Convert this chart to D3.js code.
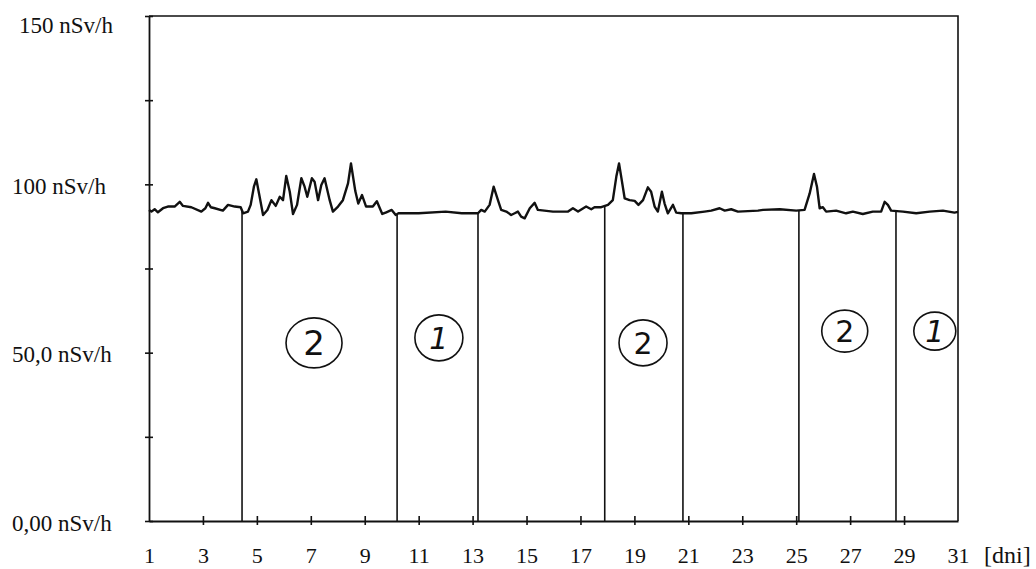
<!DOCTYPE html>
<html>
<head>
<meta charset="utf-8">
<script src="https://cdn.jsdelivr.net/npm/d3@7"></script>
<style>
  body { margin: 0; background: #fff; }
</style>
</head>
<body>
<div class="chart"></div>
<script>
let svgWidth = 1036;
let svgHeight = 569;

let margin = { top: 16, right: 78, bottom: 48, left: 149 };
let width = 958 - margin.left;
let height = 521 - margin.top;

let serif = "'Liberation Serif', 'Times New Roman', 'DejaVu Serif', serif";

// dose rate readings (day of month, nSv/h)
let days = [
    1.0, 1.09, 1.21, 1.33, 1.52, 1.70, 1.95, 2.14, 2.26, 2.57, 2.94, 3.09, 3.19, 3.29, 3.44, 3.74, 3.93, 4.18, 4.40,
    4.49, 4.67, 4.77, 4.89, 4.98, 5.08, 5.23, 5.39, 5.54, 5.70, 5.85, 5.97, 6.09, 6.22, 6.34, 6.49, 6.65, 6.77, 6.87,
    7.04, 7.14, 7.27, 7.39, 7.51, 7.70, 7.82, 8.01, 8.19, 8.38, 8.49, 8.65, 8.76, 8.90, 9.05, 9.30, 9.45, 9.65, 9.80,
    10.0, 10.15, 10.25, 11.0, 12.0, 12.6, 13.2, 13.32, 13.45, 13.63, 13.78, 13.94, 14.06, 14.25, 14.43, 14.56, 14.68,
    14.80, 14.93, 15.12, 15.30, 15.42, 15.98, 16.54, 16.72, 16.91, 17.21, 17.40, 17.52, 17.77, 18.02, 18.20, 18.33,
    18.43, 18.51, 18.64, 18.82, 19.01, 19.15, 19.32, 19.50, 19.62, 19.75, 19.87, 20.02, 20.12, 20.24, 20.43, 20.55,
    20.74, 21.11, 21.60, 21.85, 22.16, 22.35, 22.59, 22.84, 23.58, 23.77, 24.39, 25.0, 25.31, 25.50, 25.66, 25.77,
    25.87, 25.99, 26.11, 26.48, 26.85, 27.10, 27.47, 27.84, 28.15, 28.28, 28.40, 28.52, 28.96, 29.45, 29.95, 30.44,
    30.87, 31.0
];
let doseRate = [
    92.4, 91.9, 92.6, 91.7, 92.9, 93.4, 93.4, 94.8, 93.6, 93.2, 91.9, 92.9, 94.5, 93.2, 92.9, 92.2, 93.9, 93.4, 93.2,
    91.4, 91.9, 93.9, 99.3, 101.5, 97.3, 90.9, 92.4, 95.3, 93.6, 96.3, 95.3, 102.5, 97.8, 91.2, 93.9, 101.8, 99.3, 96.3,
    101.8, 100.8, 95.3, 99.8, 101.8, 95.3, 91.9, 93.4, 95.3, 100.3, 106.2, 98.0, 94.3, 96.8, 93.4, 93.4, 95.0, 91.2, 91.7,
    92.4, 90.9, 91.4, 91.4, 91.9, 91.4, 91.4, 92.4, 91.9, 93.9, 99.3, 95.3, 92.4, 91.9, 90.9, 91.4, 91.9,
    90.4, 89.9, 92.9, 94.5, 92.4, 91.9, 91.9, 92.9, 91.9, 93.4, 92.6, 93.2, 93.2, 93.9, 95.3, 102.3,
    106.2, 102.3, 95.8, 95.3, 95.1, 93.9, 95.3, 99.1, 97.8, 93.4, 91.9, 97.8, 94.3, 91.4, 93.9, 91.6,
    91.4, 91.4, 91.9, 92.2, 92.9, 92.2, 92.6, 91.9, 92.2, 92.4, 92.6, 92.2, 92.4, 97.3, 103.1, 99.3,
    92.9, 93.2, 91.9, 92.2, 91.4, 91.9, 91.2, 91.9, 91.9, 94.8, 93.9, 92.2, 91.9, 91.4, 91.9, 92.2,
    91.6, 91.8
];

// boundaries between measurement periods
let boundaryDays = [4.45, 10.2, 13.2, 17.9, 20.8, 25.1, 28.7];

// circled period numbers
let zoneLabels = ["2", "1", "2", "2", "1"];
let zoneDays = [7.12, 11.75, 19.32, 26.8, 30.14];
let zoneValues = [52.9, 54.4, 52.9, 56.4, 56.4];

let xTicks = d3.range(1, 32, 2);
let yTicks = [0, 25, 50, 75, 100, 125, 150];
let yTickLabels = { 0: "0,00 nSv/h", 50: "50,0 nSv/h", 100: "100 nSv/h", 150: "150 nSv/h" };

let data = days.map((d, i) => ({ day: d, value: doseRate[i] }));

let svg = d3.select(".chart")
    .append("svg")
    .attr("width", svgWidth)
    .attr("height", svgHeight);

let chartGroup = svg.append("g")
    .attr("transform", `translate(${margin.left}, ${margin.top})`);

let xScale = d3.scaleLinear().domain([1, 31]).range([0, width]);
let yScale = d3.scaleLinear().domain([0, 150]).range([height, 0]);

// frame: top and right
chartGroup.append("path")
    .attr("d", `M0,0H${width}V${height}`)
    .attr("fill", "none")
    .attr("stroke", "#111")
    .attr("stroke-width", 1.6);

// y axis
let leftAxis = d3.axisLeft(yScale)
    .tickValues(yTicks)
    .tickSize(0)
    .tickFormat("");
let yAxis = chartGroup.append("g").call(leftAxis);
yAxis.select(".domain").attr("stroke", "#111").attr("stroke-width", 1.8);
yAxis.selectAll(".tick").append("line")
    .attr("x1", -4).attr("x2", 4)
    .attr("stroke", "#111").attr("stroke-width", 1.6);
yAxis.selectAll(".tick").filter(d => yTickLabels[d]).append("text")
    .attr("x", d => d === 150 ? -130 : -137)
    .attr("y", d => d === 150 ? 8 : 1)
    .attr("dy", "0.35em")
    .attr("text-anchor", "start")
    .attr("fill", "#111")
    .style("font-family", serif)
    .style("font-size", "23px")
    .text(d => yTickLabels[d]);

// x axis
let bottomAxis = d3.axisBottom(xScale)
    .tickValues(xTicks)
    .tickSize(0)
    .tickFormat("");
let xAxis = chartGroup.append("g")
    .attr("transform", `translate(0, ${height})`)
    .call(bottomAxis);
xAxis.select(".domain").attr("stroke", "#111").attr("stroke-width", 1.8);
xAxis.selectAll(".tick").filter(d => d > 1 && d < 31).append("line")
    .attr("y1", -5).attr("y2", 4)
    .attr("stroke", "#111").attr("stroke-width", 1.6);
xAxis.selectAll(".tick").append("text")
    .attr("y", 42)
    .attr("text-anchor", "middle")
    .attr("fill", "#111")
    .style("font-family", serif)
    .style("font-size", "22px")
    .text(d => d);

chartGroup.append("text")
    .attr("x", width + 26)
    .attr("y", height + 42)
    .attr("fill", "#111")
    .style("font-family", serif)
    .style("font-size", "24px")
    .text("[dni]");

// period boundaries, up to the trace
let valueAt = d => {
    let i = d3.bisector(p => p.day).left(data, d);
    let a = data[Math.max(i - 1, 0)], b = data[i];
    let t = (d - a.day) / ((b.day - a.day) || 1);
    return a.value + t * (b.value - a.value);
};
chartGroup.selectAll(".boundary")
    .data(boundaryDays)
    .enter()
    .append("line")
    .attr("class", "boundary")
    .attr("x1", d => xScale(d)).attr("x2", d => xScale(d))
    .attr("y1", yScale(0))
    .attr("y2", d => yScale(valueAt(d)))
    .attr("stroke", "#111")
    .attr("stroke-width", 1.6);

// dose rate trace
let line = d3.line()
    .x(d => xScale(d.day))
    .y(d => yScale(d.value));
chartGroup.append("path")
    .datum(data)
    .attr("d", line)
    .attr("fill", "none")
    .attr("stroke", "#111")
    .attr("stroke-width", 2.4)
    .attr("stroke-linejoin", "round");

// circled numbers
let zones = zoneLabels.map((t, i) => ({ text: t, day: zoneDays[i], value: zoneValues[i] }));
let rx = [28, 24, 24, 23, 21];
let ry = [25, 23, 23, 21, 19];
let zone = chartGroup.append("g").selectAll("g")
    .data(zones)
    .enter()
    .append("g")
    .attr("transform", d => `translate(${xScale(d.day)}, ${yScale(d.value)})`);
zone.append("ellipse")
    .attr("rx", (d, i) => rx[i])
    .attr("ry", (d, i) => ry[i])
    .attr("fill", "none")
    .attr("stroke", "#111")
    .attr("stroke-width", 1.6);
zone.append("text")
    .attr("text-anchor", "middle")
    .attr("dy", "0.36em")
    .attr("fill", "#111")
    .style("font-family", "'DejaVu Sans', sans-serif")
    .style("font-size", (d, i) => i === 0 ? "34px" : "30px")
    .style("font-style", d => d.text === "1" ? "italic" : "normal")
    .text(d => d.text);
</script>
</body>
</html>
